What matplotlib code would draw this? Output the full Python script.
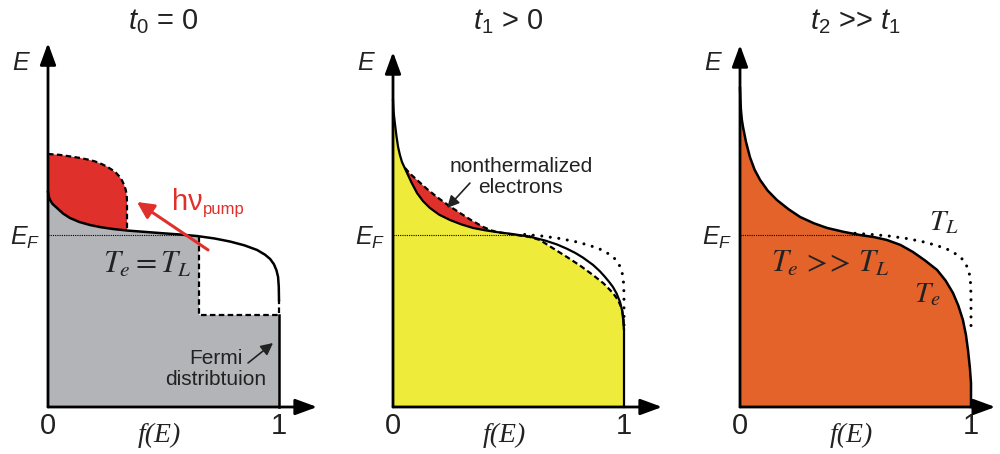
import numpy as np
import matplotlib.pyplot as plt

plt.rcParams['font.family'] = 'Liberation Sans'
plt.rcParams['mathtext.fontset'] = 'custom'
plt.rcParams['mathtext.rm'] = 'Liberation Sans'
plt.rcParams['mathtext.it'] = 'Liberation Sans:italic'

# --- curves (f along x, E along y, E_F = 1) ---
# lattice temperature Fermi distribution (T_e = T_L)
TL_f = [0.0, 0.003, 0.009, 0.02, 0.039, 0.065, 0.095, 0.135, 0.182, 0.23, 0.281, 0.342,
        0.42, 0.498, 0.57, 0.645, 0.72, 0.788, 0.85, 0.905, 0.94, 0.962, 0.978, 0.989,
        0.996, 0.999, 1.0]
TL_E = [1.25, 1.225, 1.203, 1.18, 1.157, 1.125, 1.099, 1.076, 1.058, 1.045, 1.035, 1.026,
        1.018, 1.010, 1.003, 0.994, 0.980, 0.962, 0.940, 0.913, 0.885, 0.860, 0.830, 0.795,
        0.756, 0.70, 0.622]

# panel 1: electrons lifted by the pump pulse
pump_f = [0.0, 0.05, 0.10, 0.139, 0.175, 0.203, 0.23, 0.255, 0.276, 0.294, 0.308, 0.320,
          0.330, 0.337, 0.341, 0.342, 0.342]
pump_E = [1.471, 1.466, 1.456, 1.448, 1.438, 1.428, 1.414, 1.398, 1.380, 1.362, 1.342, 1.318,
          1.290, 1.260, 1.225, 1.19, 1.023]
hole_f = 0.654       # left edge of the emptied states
hole_top_E = 0.99
hole_E = 0.535       # bottom of the emptied states

# panel 2: hot thermal distribution and nonthermal distribution
Te1_f = [0.0, 0.002, 0.004, 0.009, 0.015, 0.022, 0.030, 0.039, 0.050, 0.061, 0.080, 0.104,
         0.130, 0.160, 0.20, 0.247, 0.295, 0.346, 0.40, 0.450, 0.52, 0.593, 0.658, 0.71,
         0.753, 0.79, 0.823, 0.866, 0.895, 0.918, 0.937, 0.952, 0.968, 0.983, 0.992, 0.997, 1.0]
Te1_E = [1.785, 1.73, 1.698, 1.640, 1.575, 1.512, 1.465, 1.424, 1.392, 1.360, 1.305, 1.244,
         1.197, 1.157, 1.118, 1.087, 1.062, 1.041, 1.027, 1.017, 1.005, 0.990, 0.968, 0.945,
         0.920, 0.895, 0.868, 0.826, 0.790, 0.756, 0.725, 0.698, 0.66, 0.610, 0.560, 0.50, 0.448]
nt_f = [0.052, 0.075, 0.104, 0.145, 0.190, 0.24, 0.290, 0.34, 0.390, 0.425, 0.450, 0.52,
        0.593, 0.636, 0.69, 0.753, 0.81, 0.866, 0.912, 0.952, 0.975, 0.991, 0.998, 1.0]
nt_E = [1.390, 1.355, 1.320, 1.270, 1.221, 1.172, 1.128, 1.085, 1.047, 1.027, 1.017, 1.003,
        0.988, 0.971, 0.925, 0.872, 0.822, 0.767, 0.718, 0.663, 0.62, 0.570, 0.51, 0.448]

# panel 3: thermalized hot electrons
Te2_f = [0.0, 0.002, 0.004, 0.008, 0.013, 0.026, 0.043, 0.063, 0.087, 0.12, 0.160, 0.21,
         0.260, 0.32, 0.377, 0.45, 0.519, 0.58, 0.636, 0.695, 0.749, 0.80, 0.853, 0.89,
         0.922, 0.945, 0.965, 0.978, 0.987, 0.995, 1.0]
Te2_E = [1.855, 1.78, 1.727, 1.67, 1.628, 1.541, 1.453, 1.38, 1.320, 1.258, 1.203, 1.150,
         1.105, 1.068, 1.041, 1.018, 1.000, 0.988, 0.971, 0.942, 0.901, 0.853, 0.797, 0.735,
         0.663, 0.59, 0.506, 0.42, 0.331, 0.23, 0.140]

titles = [r'$t_{\mathit{0}}$ = 0', r'$t_{\mathit{1}}$ > 0', r'$t_{\mathit{2}}$ >> $t_{\mathit{1}}$']
axis_top = [2.116, 2.064, 2.105]
axis_right = [1.165, 1.165, 1.105]
EF_end = [0.654, 0.60, 0.55]

GRAY = '#b3b4b8'
RED = '#e0302b'
YELLOW = '#efeb3b'
ORANGE = '#e3632a'

W, H = 1000, 454
SX, SY, Y0 = 231.0, 172.0, 407
XLIM = (-0.25, 1.25)
YLIM = (-0.25, 2.4)
x0s = [48, 393, 740]

fig = plt.figure(figsize=(10, 4.54), dpi=100)
axes = []
for x0 in x0s:
    ax = fig.add_axes([(x0 + XLIM[0] * SX) / W, (H - (Y0 - YLIM[0] * SY)) / H,
                       (XLIM[1] - XLIM[0]) * SX / W, (YLIM[1] - YLIM[0]) * SY / H])
    ax.set_xlim(XLIM)
    ax.set_ylim(YLIM)
    ax.axis('off')
    axes.append(ax)

dash = (0, (2.5, 1.5))
dots = (0, (0.01, 2.8))
TLf = np.array(TL_f)
TLE = np.array(TL_E)
small_arrow = dict(arrowstyle='-|>,head_length=0.6,head_width=0.3', color='#222222',
                   lw=1.2, mutation_scale=12, shrinkA=0, shrinkB=0)

# ---------- panel 1 ----------
ax = axes[0]
k = TLf <= hole_f
gx = [0] + list(TLf[k]) + [hole_f, hole_f, 1, 1]
gy = [0] + list(TLE[k]) + [hole_top_E, hole_E, hole_E, 0]
ax.fill(gx, gy, color=GRAY, lw=0, zorder=1)
kr = TLf <= 0.342
rx = pump_f + list(TLf[kr][::-1])
ry = pump_E + list(TLE[kr][::-1])
ax.fill(rx, ry, color=RED, lw=0, zorder=1)
ax.plot(pump_f, pump_E, color='black', lw=1.6, ls=dash, zorder=3)
ax.plot([hole_f, hole_f, 1, 1], [hole_top_E, hole_E, hole_E, TL_E[-1]],
        color='black', lw=1.6, ls=dash, zorder=3)
ax.plot(TL_f, TL_E, color='black', lw=1.8, zorder=3)
ax.plot([1, 1], [0, hole_E], color='black', lw=1.8, zorder=3)
ax.text(0.43, 0.78, r'$T_e = T_L$', math_fontfamily='stix', fontsize=22,
        ha='center', va='baseline', color='#222222', zorder=5)
ax.annotate('', xy=(0.385, 1.192), xytext=(0.693, 0.913),
            arrowprops=dict(arrowstyle='-|>,head_length=0.5,head_width=0.25', color=RED,
                            lw=2.2, mutation_scale=20, shrinkA=0, shrinkB=0), zorder=5)
ax.text(0.537, 1.145, 'hν', color=RED, fontsize=21, ha='left', va='baseline', zorder=5)
ax.text(0.671, 1.122, 'pump', color=RED, fontsize=12, ha='left', va='baseline', zorder=5)
ax.text(0.727, 0.221, 'Fermi\ndistribtuion', fontsize=15, ha='center', va='center',
        linespacing=1.15, color='#222222', zorder=5)
ax.annotate('', xy=(0.974, 0.372), xytext=(0.866, 0.256), arrowprops=small_arrow, zorder=5)

# ---------- panel 2 ----------
ax = axes[1]
T1f = np.array(Te1_f)
T1E = np.array(Te1_E)
ntf = np.array(nt_f)
ntE = np.array(nt_E)
yx = [0] + list(T1f[T1f <= 0.45]) + list(ntf[ntf > 0.45]) + [1]
yy = [0] + list(T1E[T1f <= 0.45]) + list(ntE[ntf > 0.45]) + [0]
ax.fill(yx, yy, color=YELLOW, lw=0, zorder=1)
kl = (T1f >= 0.052) & (T1f <= 0.45)
kn = ntf <= 0.45
ax.fill(list(ntf[kn]) + list(T1f[kl][::-1]), list(ntE[kn]) + list(T1E[kl][::-1]),
        color=RED, lw=0, zorder=1)
kd = TLf >= 0.57
ax.plot(list(TLf[kd]) + [1.0], list(TLE[kd]) + [0.45], color='black', lw=2.2,
        ls=dots, dash_capstyle='round', zorder=3)
ax.plot(nt_f, nt_E, color='black', lw=1.6, ls=dash, zorder=3)
ax.plot(Te1_f + [1.0], Te1_E + [0], color='black', lw=1.6, zorder=3)
ax.text(0.554, 1.337, 'nonthermalized\nelectrons', fontsize=15, ha='center', va='center',
        linespacing=1.15, color='#222222', zorder=5)
ax.annotate('', xy=(0.234, 1.157), xytext=(0.333, 1.302), arrowprops=small_arrow, zorder=5)

# ---------- panel 3 ----------
ax = axes[2]
ax.fill([0] + Te2_f + [1], [0] + Te2_E + [0], color=ORANGE, lw=0, zorder=1)
kd = TLf >= 0.498
ax.plot(list(TLf[kd]) + [1.0], list(TLE[kd]) + [0.45], color='black', lw=2.2,
        ls=dots, dash_capstyle='round', zorder=3)
ax.plot(Te2_f + [1.0], Te2_E + [0], color='black', lw=1.8, zorder=3)
ax.text(0.39, 0.785, r'$T_e\,{>}\!\!{>}\,T_L$', math_fontfamily='stix', fontsize=22,
        ha='center', va='baseline', color='#222222', zorder=5)
ax.text(0.883, 1.03, r'$T_L$', math_fontfamily='stix', fontsize=21,
        ha='center', va='baseline', color='#222222', zorder=5)
ax.text(0.81, 0.61, r'$T_e$', math_fontfamily='stix', fontsize=21,
        ha='center', va='baseline', color='#222222', zorder=5)

# ---------- common axes decorations ----------
head = '-|>,head_length=0.6,head_width=0.22'
for i, ax in enumerate(axes):
    ax.plot([0, EF_end[i]], [1.0, 1.0], color='black', lw=0.8, ls=(0, (1, 1)), zorder=2)
    ax.annotate('', xy=(0, axis_top[i]), xytext=(0, 0),
                arrowprops=dict(arrowstyle=head, color='black', lw=2.0, mutation_scale=22,
                                shrinkA=0, shrinkB=0), zorder=4)
    ax.annotate('', xy=(axis_right[i], 0), xytext=(0, 0),
                arrowprops=dict(arrowstyle=head, color='black', lw=2.0, mutation_scale=22,
                                shrinkA=0, shrinkB=0), zorder=4)
    ax.text(0.5, 2.238, titles[i], fontsize=21, ha='center', va='center', color='#222222')
    ax.text(-0.117, 2.0, '$E$', fontsize=18, ha='center', va='center', color='#222222')
    ax.text(-0.035, 0.942, '$E_F$', fontsize=18, ha='right', va='baseline', color='#222222')
    ax.text(0, -0.11, '0', fontsize=21, ha='center', va='center', color='#222222')
    ax.text(1, -0.11, '1', fontsize=21, ha='center', va='center', color='#222222')
    ax.text(0.48, -0.163, 'f(E)', fontsize=20, family='Liberation Serif', style='italic',
            ha='center', va='center', color='#222222')

fig.savefig('out.png', dpi=100)
